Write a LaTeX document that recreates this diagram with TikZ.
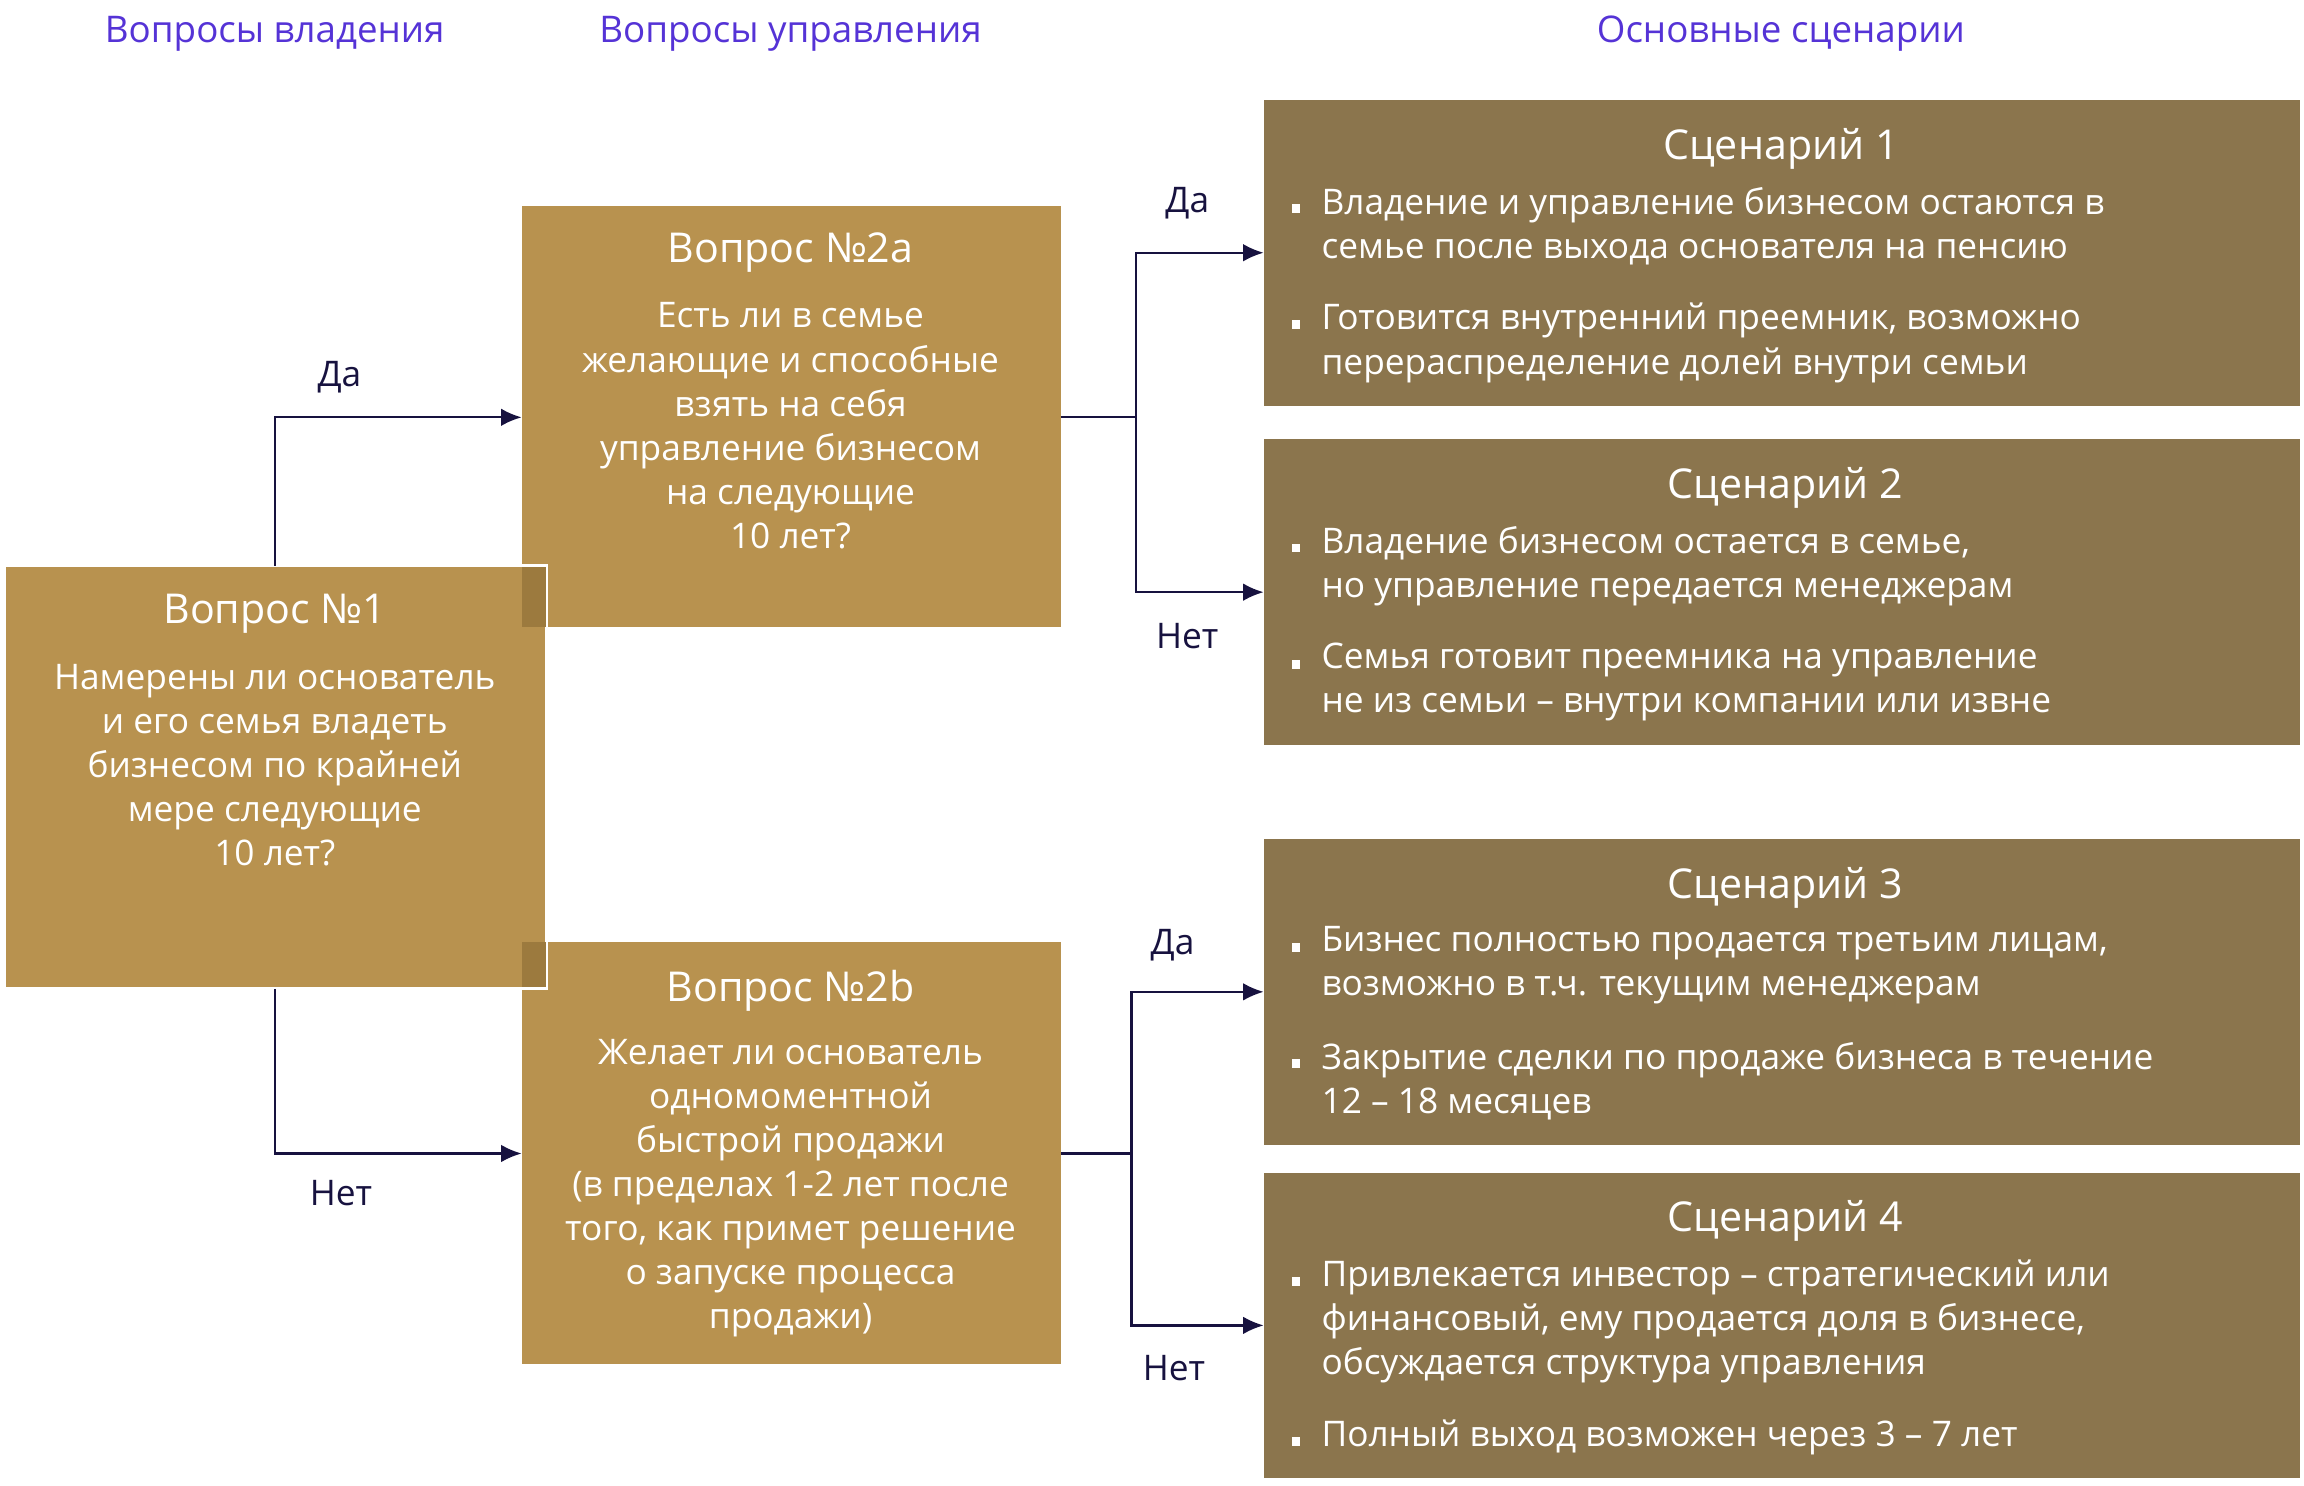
\documentclass[tikz,border=0pt]{standalone}
\usepackage{fontspec}
\setmainfont{Open Sans}
\usetikzlibrary{arrows.meta}
\definecolor{gold}{HTML}{B8924F}
\definecolor{goldd}{HTML}{9C7A3E}
\definecolor{brown}{HTML}{8B754D}
\definecolor{navy}{HTML}{17123F}
\definecolor{hdr}{HTML}{5533D6}
\begin{document}
\begin{tikzpicture}[x=0.5pt,y=-0.5pt,
 box/.style={anchor=north west,inner sep=0,outer sep=0},
 txt/.style={text=white,font=\fontsize{12}{15}\selectfont,align=center},
 ttl/.style={text=white,font=\fontsize{14}{17}\selectfont},
 hd/.style={text=hdr,font=\fontsize{12.5}{15}\selectfont},
 lab/.style={text=navy,font=\fontsize{12}{15}\selectfont},
 bl/.style={anchor=north west,text=white,font=\fontsize{12}{15}\selectfont,align=left,inner sep=0},
 bul/.style={fill=white,minimum size=3pt,inner sep=0},
 con/.style={navy,line width=0.8pt},
 arr/.style={con,-{Latex[length=7pt,width=6pt]}}]
\useasboundingbox (0,0) rectangle (1568,1011);
\node[hd] (h1) at (187,23) {Вопросы владения};
\node[hd] (h2) at (538,23) {Вопросы управления};
\node[hd] (h3) at (1212,23) {Основные сценарии};
% question boxes
\node[box,fill=gold,minimum width=183.5pt,minimum height=143.5pt] (q2a) at (355,140) {};
\node[box,fill=gold,minimum width=183.5pt,minimum height=143.5pt] (q2b) at (355,641) {};
\node[box,fill=gold,draw=white,line width=1pt,minimum width=184.5pt,minimum height=144pt] (q1) at (3,385) {};
\fill[goldd] (355.5,386) rectangle (371.5,427);
\fill[goldd] (355.5,641) rectangle (371.5,672);
\node[ttl] (t1) at (187,418) {Вопрос №1};
\node[txt,anchor=north] (b1) at (187,445) {Намерены ли основатель\\и его семья владеть\\бизнесом по крайней\\мере следующие\\10 лет?};
\node[ttl] (t2a) at (538,172) {Вопрос №2a};
\node[txt,anchor=north] (b2a) at (538,199) {Есть ли в семье\\желающие и способные\\взять на себя\\управление бизнесом\\на следующие\\10 лет?};
\node[ttl] (t2b) at (538,674) {Вопрос №2b};
\node[txt,anchor=north] (b2b) at (538,700) {Желает ли основатель\\одномоментной\\быстрой продажи\\(в пределах 1-2 лет после\\того, как примет решение\\о запуске процесса\\продажи)};
% scenario boxes
\foreach \n/\y in {s1/68,s2/299,s3/571,s4/798}
  \node[box,fill=brown,minimum width=352.5pt,minimum height=104pt] (\n) at (860,\y) {};
\node[ttl] (st1) at (1212,101) {Сценарий 1};
\node[bul] (u11) at (882,142) {}; \node[bl] (x11) at (899,127) {Владение и управление бизнесом остаются в\\семье после выхода основателя на пенсию};
\node[bul] (u12) at (882,221) {}; \node[bl] (x12) at (899,206) {Готовится внутренний преемник, возможно\\перераспределение долей внутри семьи};
\node[ttl] (st2) at (1215,332) {Сценарий 2};
\node[bul] (u21) at (882,373) {}; \node[bl] (x21) at (899,358) {Владение бизнесом остается в семье,\\но управление передается менеджерам};
\node[bul] (u22) at (882,452) {}; \node[bl] (x22) at (899,437) {Семья готовит преемника на управление\\не из семьи – внутри компании или извне};
\node[ttl] (st3) at (1215,604) {Сценарий 3};
\node[bul] (u31) at (882,645) {}; \node[bl] (x31) at (899,630) {Бизнес полностью продается третьим лицам,\\возможно в т.ч. текущим менеджерам};
\node[bul] (u32) at (882,724) {}; \node[bl] (x32) at (899,709) {Закрытие сделки по продаже бизнеса в течение\\12 – 18 месяцев};
\node[ttl] (st4) at (1215,831) {Сценарий 4};
\node[bul] (u41) at (882,872) {}; \node[bl] (x41) at (899,857) {Привлекается инвестор – стратегический или\\финансовый, ему продается доля в бизнесе,\\обсуждается структура управления};
\node[bul] (u42) at (882,981) {}; \node[bl] (x42) at (899,966) {Полный выход возможен через 3 – 7 лет};
% connectors
\coordinate (c1) at (187,284); \coordinate (c2) at (187,785);
\draw[arr] (q1.north -| c1) -- (c1) -- (q2a.west |- c1);
\draw[arr] (q1.south -| c2) -- (c2) -- (q2b.west |- c2);
\node[lab] (l1) at (231,257) {Да};
\node[lab] (l2) at (232,812) {Нет};
\coordinate (j1) at (773,284); \coordinate (j2) at (770,785);
\draw[con] (q2a.east |- j1) -- (j1);
\draw[arr] (j1) -- (773,172) -- (s1.west |- 0,172);
\draw[arr] (j1) -- (773,403) -- (s2.west |- 0,403);
\draw[con] (q2b.east |- j2) -- (j2);
\draw[arr] (j2) -- (770,675) -- (s3.west |- 0,675);
\draw[arr] (j2) -- (770,902) -- (s4.west |- 0,902);
\node[lab] (l3) at (808,138) {Да};
\node[lab] (l4) at (808,433) {Нет};
\node[lab] (l5) at (798,643) {Да};
\node[lab] (l6) at (799,931) {Нет};
\end{tikzpicture}
\end{document}
